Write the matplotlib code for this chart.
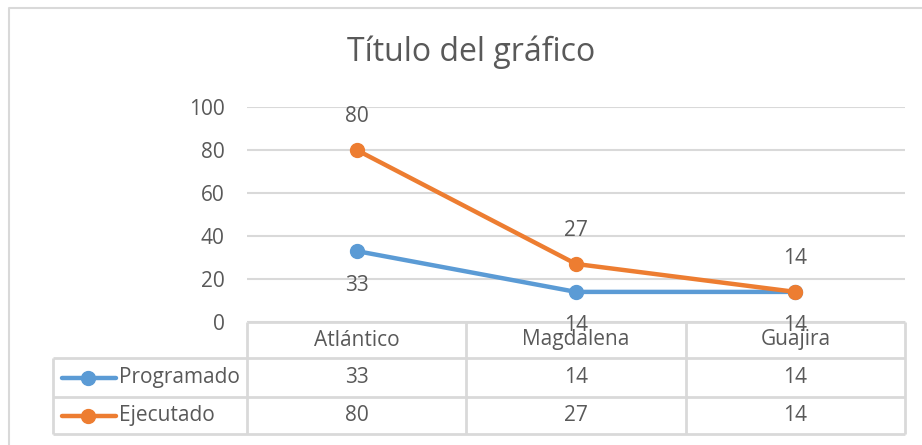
import matplotlib
matplotlib.use("Agg")
import matplotlib.pyplot as plt
from matplotlib.lines import Line2D
import matplotlib.transforms as mtrans

categories = ["Atlántico", "Magdalena", "Guajira"]
series_names = ["Programado", "Ejecutado"]
programado = [33, 14, 14]
ejecutado = [80, 27, 14]
y_ticks = [0, 20, 40, 60, 80, 100]
title = "Título del gráfico"

colors = ["#5B9BD5", "#ED7D31"]
txt = "#595959"
grid = "#D9D9D9"
plt.rcParams['font.family'] = ['Open Sans', 'DejaVu Sans']

W, H = 922, 445
fig = plt.figure(figsize=(W/100, H/100), dpi=100)

def fx(px): return px / W
def fy(py): return 1 - py / H

left, right, top, bottom = 247, 905, 107, 322
ax = fig.add_axes([fx(left), fy(bottom), fx(right - left), (bottom - top) / H])
ax.set_xlim(-0.5, len(categories) - 0.5)
ax.set_ylim(0, 100)
for s in ax.spines.values():
    s.set_visible(False)
ax.set_yticks(y_ticks)
ax.set_yticklabels([str(v) for v in y_ticks])
ax.tick_params(axis='y', length=0, pad=16, labelsize=15, labelcolor=txt)
ax.set_xticks([])
ax.yaxis.grid(True, color=grid, linewidth=1.5)
ax.set_axisbelow(True)

xs = list(range(len(categories)))
data = [programado, ejecutado]
offsets_px = [-34, 33]
for vals, c, off in zip(data, colors, offsets_px):
    ax.plot(xs, vals, color=c, linewidth=3.2, marker='o', markersize=10,
            solid_capstyle='round', zorder=3, clip_on=False)
    tr = ax.transData + mtrans.ScaledTranslation(0, off / 100, fig.dpi_scale_trans)
    for x, v in zip(xs, vals):
        fig.text(x, v, str(v), transform=tr, ha='center', va='center',
                 fontsize=15, color=txt, zorder=10)

tl = dict(color=grid, linewidth=2, solid_capstyle='butt', zorder=1)
rows_y = [322, 358, 397, 434]
col_left = 53
bounds = [-0.5 + i for i in range(len(categories) + 1)]
blend = mtrans.blended_transform_factory(ax.transData, fig.transFigure)
fig.add_artist(Line2D([fx(left), fx(right)], [fy(rows_y[0])] * 2, **tl))
for ry in rows_y[1:]:
    fig.add_artist(Line2D([fx(col_left), fx(right)], [fy(ry)] * 2, **tl))
for b in bounds:
    fig.add_artist(Line2D([b, b], [fy(rows_y[0]), fy(rows_y[-1])], transform=blend, **tl))
fig.add_artist(Line2D([fx(col_left)] * 2, [fy(rows_y[1]), fy(rows_y[-1])], **tl))

for x, cat in zip(xs, categories):
    fig.text(x, fy((rows_y[0] + rows_y[1]) / 2), cat, transform=blend,
             ha='center', va='center', fontsize=15, color=txt)
for i, (name, vals, c) in enumerate(zip(series_names, data, colors)):
    cy = fy((rows_y[i + 1] + rows_y[i + 2]) / 2)
    fig.add_artist(Line2D([fx(62), fx(116)], [cy, cy], color=c, linewidth=3.2,
                          solid_capstyle='round'))
    fig.add_artist(Line2D([fx(88)], [cy], color=c, marker='o', markersize=10))
    fig.text(fx(119), cy, name, ha='left', va='center', fontsize=15, color=txt)
    for x, v in zip(xs, vals):
        fig.text(x, cy, str(v), transform=blend, ha='center', va='center',
                 fontsize=15, color=txt)

fig.text(fx(471), fy(52), title, ha='center', va='center', fontsize=23, color=txt)

fig.add_artist(Line2D([fx(9), fx(9), fx(W + 5)], [fy(H + 5), fy(8), fy(8)],
                      color=grid, linewidth=1.5))

fig.savefig("out.png", dpi=100)
